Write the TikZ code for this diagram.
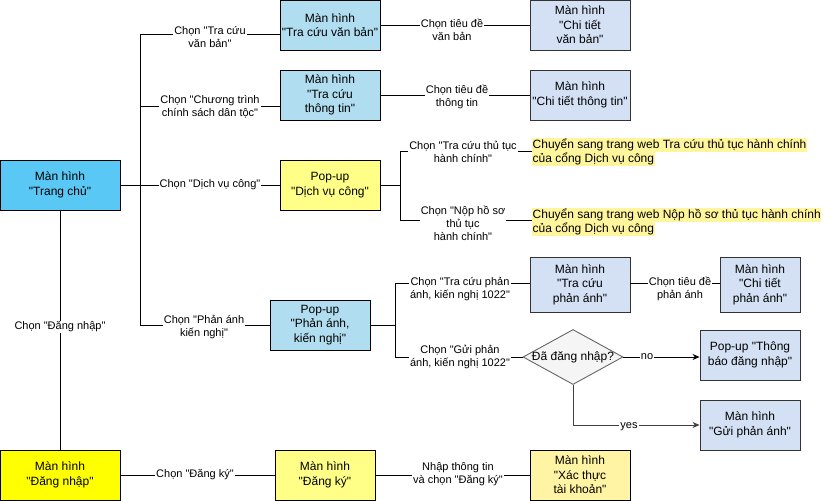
\documentclass[tikz,border=0pt]{standalone}
\usepackage{fontspec}
\setmainfont{Liberation Sans}
\newfontfamily\lsans{Liberation Sans}
\usetikzlibrary{shapes.geometric,arrows.meta}
\definecolor{cHome}{HTML}{5AC8F5}
\definecolor{cLB}{HTML}{B1DDF0}
\definecolor{cLav}{HTML}{D4E1F5}
\definecolor{cLY}{HTML}{FFFF88}
\definecolor{cY}{HTML}{FFFF00}
\definecolor{cXT}{HTML}{FFF4A3}
\definecolor{cHL}{HTML}{FFF59D}
\definecolor{cDia}{HTML}{F5F5F5}
\definecolor{cGr}{HTML}{666666}
\tikzset{
  box/.style={draw=black, line width=0.9pt, minimum width=100pt, minimum height=50pt,
    align=center, inner sep=1pt, font=\lsans\fontsize{12}{14.5}\selectfont},
  lavbox/.style={box, draw=black!80, fill=cLav},
  lbl/.style={fill=white, align=center, inner sep=1pt, font=\lsans\fontsize{11}{13}\selectfont},
  hl/.style={fill=cHL, inner sep=0.5pt, text height=9.5pt, text depth=3.5pt, anchor=west,
    font=\lsans\fontsize{12}{14}\selectfont},
  conn/.style={line width=0.9pt, black},
  arr/.style={conn, -{Stealth[length=7pt,width=6pt]}},
}
\begin{document}
\begin{tikzpicture}[x=1pt,y=-1pt]
\useasboundingbox (0,0) rectangle (831,501);

% nodes
\node[box, fill=cHome, minimum width=120pt] (home) at (60,185) {Màn hình\\"Trang chủ"};
\node[box, fill=cLB] (tcvb) at (330,25) {Màn hình\\"Tra cứu văn bản"};
\node[lavbox] (ctvb) at (580,25) {Màn hình\\"Chi tiết\\văn bản"};
\node[box, fill=cLB] (tctt) at (330,95) {Màn hình\\"Tra cứu\\thông tin"};
\node[lavbox] (cttt) at (580,95) {Màn hình\\"Chi tiết thông tin"};
\node[box, fill=cLY] (dvc) at (330,185) {Pop-up\\"Dịch vụ công"};
\node[hl] (web1) at (532,145) {Chuyển sang trang web Tra cứu thủ tục hành chính};
\node[hl] (web1b) at (532,159) {của cổng Dịch vụ công};
\node[hl] (web2) at (532,215) {Chuyển sang trang web Nộp hồ sơ thủ tục hành chính};
\node[hl] (web2b) at (532,229) {của cổng Dịch vụ công};
\node[box, fill=cLB] (pa) at (320,325) {Pop-up\\"Phản ánh,\\kiến nghị"};
\node[lavbox, minimum height=55pt] (tcpa) at (580,284.5) {Màn hình\\"Tra cứu\\phản ánh"};
\node[lavbox, minimum height=55pt, minimum width=80pt] (ctpa) at (760,284.5) {Màn hình\\"Chi tiết\\phản ánh"};
\node[diamond, draw=cGr, fill=cDia, line width=0.9pt, minimum width=100pt, minimum height=55pt,
  shape aspect=1.8, inner sep=0pt, font=\lsans\fontsize{12}{14}\selectfont] (dia) at (573,357)
  {\makebox[0pt]{Đã đăng nhập?}};
\node[lavbox] (tbdn) at (750,355) {Pop-up "Thông\\báo đăng nhập"};
\node[lavbox] (gpa) at (750,425) {Màn hình\\"Gửi phản ánh"};
\node[box, fill=cY, minimum width=120pt] (dn) at (60,475) {Màn hình\\"Đăng nhập"};
\node[box, fill=cLY] (dk) at (325,475) {Màn hình\\"Đăng ký"};
\node[box, fill=cXT] (xt) at (580,475) {Màn hình\\"Xác thực\\tài khoản"};

\coordinate (j1) at (140,185);
\coordinate (j2) at (400,185);
\coordinate (j3) at (395,325);

% connectors
\draw[conn] (home.east) -- (dvc.west);
\draw[conn] (j1) |- ([yshift=-9pt]tcvb.west);
\draw[conn] (j1) |- ([yshift=-11pt]tctt.west);
\draw[conn] (j1) |- (pa.west);
\draw[conn] (tcvb.east) -- (ctvb.west);
\draw[conn] (tctt.east) -- (cttt.west);
\draw[conn] (dvc.east) -- (j2);
\draw[conn] (j2) |- ([yshift=-6pt]web1.west);
\draw[conn] (j2) |- ([yshift=-5pt]web2.west);
\draw[conn] (pa.east) -- (j3);
\draw[conn] (j3) |- ([yshift=1.5pt]tcpa.west);
\draw[conn] (j3) |- (dia.west);
\draw[conn] ([yshift=1.5pt]tcpa.east) -- ([yshift=1.5pt]ctpa.west);
\draw[arr] (dia.east) -- ([yshift=-2pt]tbdn.west);
\draw[arr, draw=black!75] (dia.south) |- (gpa.west);
\draw[conn] (home.south) -- (dn.north);
\draw[conn] (dn.east) -- (dk.west);
\draw[conn] (dk.east) -- (xt.west);

% labels
\node[lbl] (l1) at (210,37) {Chọn "Tra cứu\\văn bản"};
\node[lbl] (l2) at (210,106.5) {Chọn "Chương trình\\chính sách dân tộc"};
\node[lbl] (l3) at (210,185) {Chọn "Dịch vụ công"};
\node[lbl] (l4) at (204,327) {Chọn "Phản ánh\\kiến nghị"};
\node[lbl] (l5) at (452,30) {Chọn tiêu đề\\văn bản};
\node[lbl] (l6) at (457,97) {Chọn tiêu đề\\thông tin};
\node[lbl] (l7) at (463,152) {Chọn "Tra cứu thủ tục\\hành chính"};
\node[lbl] (l8) at (463,223) {Chọn "Nộp hồ sơ\\thủ tục\\hành chính"};
\node[lbl] (l9) at (460,289) {Chọn "Tra cứu phản\\ánh, kiến nghị 1022"};
\node[lbl] (l10) at (460,357) {Chọn "Gửi phản\\ánh, kiến nghị 1022"};
\node[lbl] (l11) at (680,289) {Chọn tiêu đề\\phản ánh};
\node[lbl] (l12) at (647,357) {no};
\node[lbl] (l13) at (629,427) {yes};
\node[lbl] (l14) at (60,327) {Chọn "Đăng nhập"};
\node[lbl] (l15) at (195,475) {Chọn "Đăng ký"};
\node[lbl] (l16) at (458,474) {Nhập thông tin\\và chọn "Đăng ký"};
\end{tikzpicture}
\end{document}
